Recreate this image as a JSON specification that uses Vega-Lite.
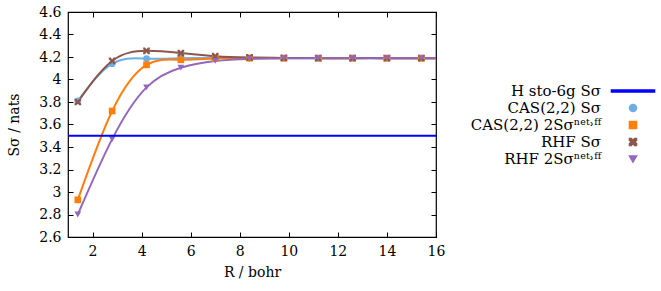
{
  "$schema": "https://vega.github.io/schema/vega-lite/v6.json",
  "autosize": "none",
  "width": 368,
  "height": 225,
  "padding": {"left": 68, "top": 12, "right": 225, "bottom": 54},
  "background": "white",
  "data": {"values": [
    {"series": "H sto-6g Sσ", "R": null, "S": 3.5},
    {"series": "CAS(2,2) Sσ", "R": 1.4, "S": 3.81},
    {"series": "CAS(2,2) Sσ", "R": 2.8, "S": 4.14},
    {"series": "CAS(2,2) Sσ", "R": 4.2, "S": 4.185},
    {"series": "CAS(2,2) Sσ", "R": 5.6, "S": 4.19},
    {"series": "CAS(2,2) Sσ", "R": 7.0, "S": 4.19},
    {"series": "CAS(2,2) Sσ", "R": 8.4, "S": 4.19},
    {"series": "CAS(2,2) Sσ", "R": 9.8, "S": 4.19},
    {"series": "CAS(2,2) Sσ", "R": 11.2, "S": 4.19},
    {"series": "CAS(2,2) Sσ", "R": 12.6, "S": 4.19},
    {"series": "CAS(2,2) Sσ", "R": 14.0, "S": 4.19},
    {"series": "CAS(2,2) Sσ", "R": 15.4, "S": 4.19},
    {"series": "CAS(2,2) Sσ", "R": 16.8, "S": 4.19},
    {"series": "CAS(2,2) 2Sσⁿᵉᵗ˒ᶠᶠ", "R": 1.4, "S": 2.93},
    {"series": "CAS(2,2) 2Sσⁿᵉᵗ˒ᶠᶠ", "R": 2.8, "S": 3.72},
    {"series": "CAS(2,2) 2Sσⁿᵉᵗ˒ᶠᶠ", "R": 4.2, "S": 4.13},
    {"series": "CAS(2,2) 2Sσⁿᵉᵗ˒ᶠᶠ", "R": 5.6, "S": 4.175},
    {"series": "CAS(2,2) 2Sσⁿᵉᵗ˒ᶠᶠ", "R": 7.0, "S": 4.187},
    {"series": "CAS(2,2) 2Sσⁿᵉᵗ˒ᶠᶠ", "R": 8.4, "S": 4.19},
    {"series": "CAS(2,2) 2Sσⁿᵉᵗ˒ᶠᶠ", "R": 9.8, "S": 4.19},
    {"series": "CAS(2,2) 2Sσⁿᵉᵗ˒ᶠᶠ", "R": 11.2, "S": 4.19},
    {"series": "CAS(2,2) 2Sσⁿᵉᵗ˒ᶠᶠ", "R": 12.6, "S": 4.19},
    {"series": "CAS(2,2) 2Sσⁿᵉᵗ˒ᶠᶠ", "R": 14.0, "S": 4.19},
    {"series": "CAS(2,2) 2Sσⁿᵉᵗ˒ᶠᶠ", "R": 15.4, "S": 4.19},
    {"series": "CAS(2,2) 2Sσⁿᵉᵗ˒ᶠᶠ", "R": 16.8, "S": 4.19},
    {"series": "RHF Sσ", "R": 1.4, "S": 3.80},
    {"series": "RHF Sσ", "R": 2.8, "S": 4.165},
    {"series": "RHF Sσ", "R": 4.2, "S": 4.255},
    {"series": "RHF Sσ", "R": 5.6, "S": 4.235},
    {"series": "RHF Sσ", "R": 7.0, "S": 4.207},
    {"series": "RHF Sσ", "R": 8.4, "S": 4.196},
    {"series": "RHF Sσ", "R": 9.8, "S": 4.192},
    {"series": "RHF Sσ", "R": 11.2, "S": 4.19},
    {"series": "RHF Sσ", "R": 12.6, "S": 4.19},
    {"series": "RHF Sσ", "R": 14.0, "S": 4.19},
    {"series": "RHF Sσ", "R": 15.4, "S": 4.19},
    {"series": "RHF Sσ", "R": 16.8, "S": 4.19},
    {"series": "RHF 2Sσⁿᵉᵗ˒ᶠᶠ", "R": 1.4, "S": 2.80},
    {"series": "RHF 2Sσⁿᵉᵗ˒ᶠᶠ", "R": 2.8, "S": 3.47},
    {"series": "RHF 2Sσⁿᵉᵗ˒ᶠᶠ", "R": 4.2, "S": 3.93},
    {"series": "RHF 2Sσⁿᵉᵗ˒ᶠᶠ", "R": 5.6, "S": 4.105},
    {"series": "RHF 2Sσⁿᵉᵗ˒ᶠᶠ", "R": 7.0, "S": 4.165},
    {"series": "RHF 2Sσⁿᵉᵗ˒ᶠᶠ", "R": 8.4, "S": 4.183},
    {"series": "RHF 2Sσⁿᵉᵗ˒ᶠᶠ", "R": 9.8, "S": 4.189},
    {"series": "RHF 2Sσⁿᵉᵗ˒ᶠᶠ", "R": 11.2, "S": 4.19},
    {"series": "RHF 2Sσⁿᵉᵗ˒ᶠᶠ", "R": 12.6, "S": 4.19},
    {"series": "RHF 2Sσⁿᵉᵗ˒ᶠᶠ", "R": 14.0, "S": 4.19},
    {"series": "RHF 2Sσⁿᵉᵗ˒ᶠᶠ", "R": 15.4, "S": 4.19},
    {"series": "RHF 2Sσⁿᵉᵗ˒ᶠᶠ", "R": 16.8, "S": 4.19}
  ]},
  "layer": [
    {
      "transform": [{"filter": "datum.series !== 'H sto-6g Sσ'"}],
      "mark": {"type": "line", "interpolate": "natural", "strokeWidth": 2, "clip": true},
      "encoding": {
        "x": {"field": "R", "type": "quantitative", "scale": {"domain": [1, 16], "nice": false, "zero": false},
              "axis": {"orient": "bottom", "values": [2, 4, 6, 8, 10, 12, 14, 16], "title": "R / bohr", "labelPadding": 12, "titlePadding": 7}},
        "y": {"field": "S", "type": "quantitative", "scale": {"domain": [2.6, 4.6], "nice": false, "zero": false},
              "axis": {"orient": "left", "values": [2.6, 2.8, 3.0, 3.2, 3.4, 3.6, 3.8, 4.0, 4.2, 4.4, 4.6], "format": "~g", "title": "Sσ / nats", "labelPadding": 12, "titlePadding": 17}},
        "color": {"field": "series", "type": "nominal"},
        "detail": {"field": "series"}
      }
    },
    {
      "transform": [{"filter": "datum.series !== 'H sto-6g Sσ'"}],
      "mark": {"type": "point", "filled": true, "opacity": 1, "size": 45, "clip": true},
      "encoding": {
        "x": {"field": "R", "type": "quantitative",
              "axis": {"orient": "top", "values": [2, 4, 6, 8, 10, 12, 14, 16], "labels": false, "title": null}},
        "y": {"field": "S", "type": "quantitative",
              "axis": {"orient": "right", "values": [2.6, 2.8, 3.0, 3.2, 3.4, 3.6, 3.8, 4.0, 4.2, 4.4, 4.6], "labels": false, "title": null}},
        "color": {"field": "series", "type": "nominal",
                  "scale": {"domain": ["H sto-6g Sσ", "CAS(2,2) Sσ", "CAS(2,2) 2Sσⁿᵉᵗ˒ᶠᶠ", "RHF Sσ", "RHF 2Sσⁿᵉᵗ˒ᶠᶠ"],
                            "range": ["#0000ff", "#6eaee6", "#ff7f0e", "#8c564b", "#9467bd"]},
                  "legend": {"orient": "none", "legendX": 482, "legendY": 71.5, "direction": "vertical", "title": null,
                             "labelAlign": "right", "labelOffset": -39.5, "symbolOffset": 75.5, "padding": 0, "rowPadding": 1,
                             "symbolSize": 50, "labelFontSize": 15, "labelColor": "black", "labelLimit": 400}},
        "shape": {"field": "series", "type": "nominal",
                  "scale": {"domain": ["H sto-6g Sσ", "CAS(2,2) Sσ", "CAS(2,2) 2Sσⁿᵉᵗ˒ᶠᶠ", "RHF Sσ", "RHF 2Sσⁿᵉᵗ˒ᶠᶠ"],
                            "range": ["M-6.1,-0.25L6.1,-0.25L6.1,0.25L-6.1,0.25Z", "circle", "square", "M-1,-1L-0.45,-1L0,-0.45L0.45,-1L1,-1L1,-0.45L0.45,0L1,0.45L1,1L0.45,1L0,0.45L-0.45,1L-1,1L-1,0.45L-0.45,0L-1,-0.45Z", "triangle-down"]}}
      }
    },
    {
      "transform": [{"filter": "datum.series === 'H sto-6g Sσ'"}],
      "mark": {"type": "rule", "strokeWidth": 1.8},
      "encoding": {
        "y": {"field": "S", "type": "quantitative", "axis": null},
        "color": {"field": "series", "type": "nominal"}
      }
    }
  ],
  "resolve": {"axis": {"x": "independent", "y": "independent"}},
  "config": {
    "font": "DejaVu Serif",
    "view": {"stroke": "black", "strokeWidth": 1.2},
    "legend": {"labelFont": "DejaVu Serif"},
    "axis": {
      "labelFont": "DejaVu Serif", "labelFontSize": 14, "labelColor": "black",
      "titleFont": "DejaVu Serif", "titleFontSize": 14, "titleFontWeight": "normal", "titleColor": "black",
      "tickColor": "black", "tickSize": -5, "tickWidth": 1, "domain": false, "grid": false,
      "labelFlush": false, "labelOverlap": false
    }
  }
}
